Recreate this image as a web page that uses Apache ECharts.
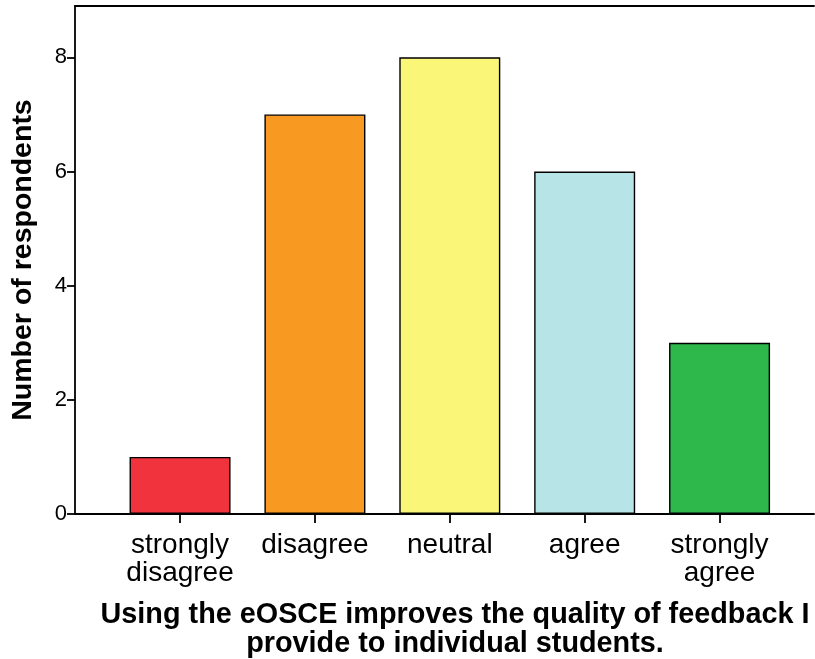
<!DOCTYPE html>
<html>
<head>
<meta charset="utf-8">
<script src="https://cdn.jsdelivr.net/npm/echarts@6/dist/echarts.min.js"></script>
<style>
  html, body { margin: 0; padding: 0; background: #fff; }
  #chart { width: 815px; height: 659px; }
</style>
</head>
<body>
<div id="chart"></div>
<script>
// Survey responses: feedback quality with the eOSCE
const categories = ['strongly\ndisagree', 'disagree', 'neutral', 'agree', 'strongly\nagree'];
const respondents = [1, 7, 8, 6, 3];
const barColors = ['#F1333D', '#F89A21', '#FAF778', '#B6E4E7', '#2EB84C'];
const yTicks = [0, 2, 4, 6, 8];

const FONT = '"Liberation Sans", Arial, Helvetica, sans-serif';
const Y_MAX = 8.9;
const AXIS_W = 1.8;

const chart = echarts.init(document.getElementById('chart'), null, { renderer: 'canvas' });

chart.setOption({
  animation: false,
  backgroundColor: '#ffffff',
  title: {
    text: 'Using the eOSCE improves the quality of feedback I\nprovide to individual students.',
    left: 450,
    top: 596,
    textAlign: 'center',
    textStyle: {
      fontFamily: FONT,
      fontWeight: 'bold',
      fontSize: 28.8,
      lineHeight: 29,
      color: '#000'
    }
  },
  grid: [
    // frame: left axis, top and bottom lines
    { left: 75, right: 1, top: 6, bottom: 145 },
    // category band area for the bars
    { left: 112.6, right: 28, top: 6, bottom: 145 }
  ],
  xAxis: [
    {
      gridIndex: 0, type: 'value', position: 'bottom', min: 0, max: 1,
      axisLine: { show: true, lineStyle: { color: '#000', width: AXIS_W } },
      axisTick: { show: false }, axisLabel: { show: false }, splitLine: { show: false }
    },
    {
      gridIndex: 0, type: 'value', position: 'top', min: 0, max: 1,
      axisLine: { show: true, onZero: false, lineStyle: { color: '#000', width: AXIS_W } },
      axisTick: { show: false }, axisLabel: { show: false }, splitLine: { show: false }
    },
    {
      gridIndex: 1, type: 'category', data: categories, position: 'bottom',
      axisLine: { show: false },
      axisTick: { show: true, alignWithLabel: true, length: 9, lineStyle: { color: '#000', width: AXIS_W } },
      axisLabel: {
        margin: 17, fontFamily: FONT, fontSize: 28, lineHeight: 28, color: '#000', interval: 0
      }
    }
  ],
  yAxis: [
    {
      gridIndex: 0, type: 'value', min: 0, max: Y_MAX,
      name: 'Number of respondents',
      nameLocation: 'middle',
      nameGap: 37,
      nameTextStyle: { fontFamily: FONT, fontWeight: 'bold', fontSize: 28.5, color: '#000' },
      axisLine: { show: true, lineStyle: { color: '#000', width: AXIS_W } },
      axisTick: { show: true, length: 8, customValues: yTicks, lineStyle: { color: '#000', width: AXIS_W } },
      axisLabel: {
        margin: 8, fontFamily: FONT, fontSize: 22, color: '#000', customValues: yTicks
      },
      splitLine: { show: false }
    },
    {
      gridIndex: 1, type: 'value', min: 0, max: Y_MAX, show: false
    }
  ],
  series: [
    {
      type: 'bar',
      xAxisIndex: 2,
      yAxisIndex: 1,
      barWidth: 101,
      data: respondents.map((v, i) => ({
        value: v,
        itemStyle: { color: barColors[i], borderColor: '#000', borderWidth: 1.4 }
      }))
    }
  ]
});
</script>
</body>
</html>
